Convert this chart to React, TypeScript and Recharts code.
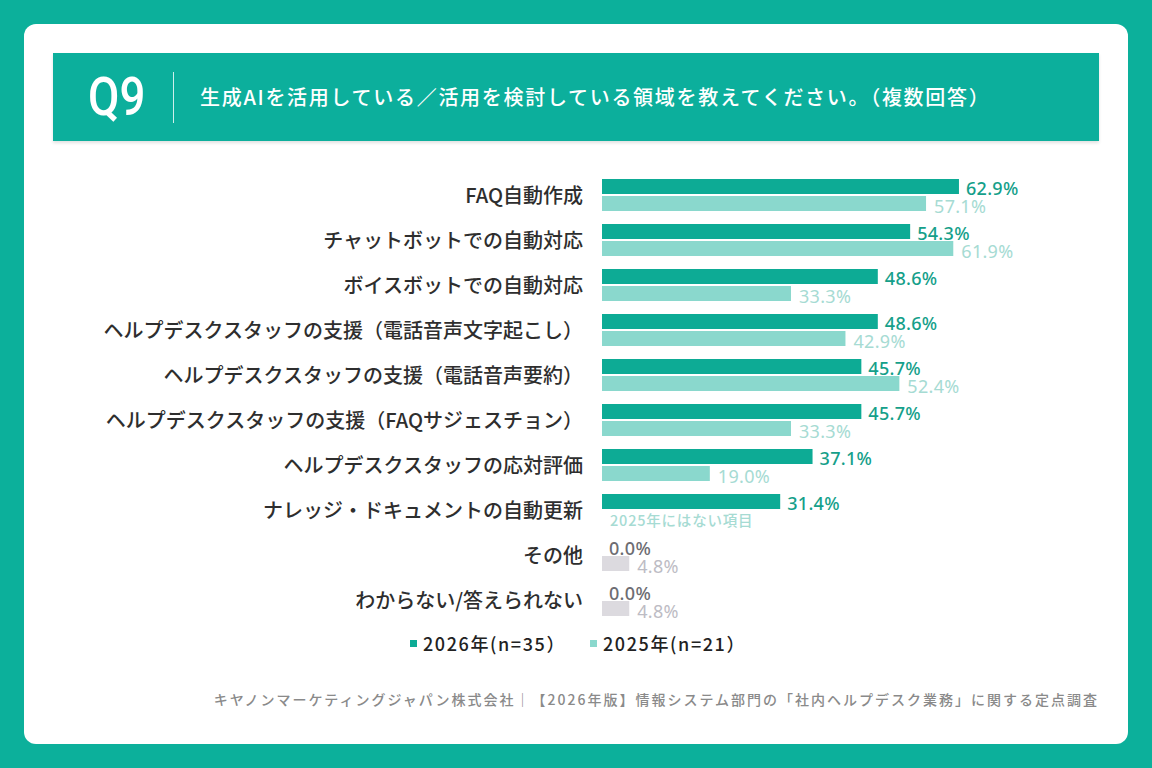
import React from "react";
import { BarChart, Bar, XAxis, YAxis } from "recharts";

const categories = [
  "FAQ自動作成",
  "チャットボットでの自動対応",
  "ボイスボットでの自動対応",
  "ヘルプデスクスタッフの支援（電話音声文字起こし）",
  "ヘルプデスクスタッフの支援（電話音声要約）",
  "ヘルプデスクスタッフの支援（FAQサジェスチョン）",
  "ヘルプデスクスタッフの応対評価",
  "ナレッジ・ドキュメントの自動更新",
  "その他",
  "わからない/答えられない",
];
const values2026 = [62.9, 54.3, 48.6, 48.6, 45.7, 45.7, 37.1, 31.4, 0.0, 0.0];
const values2025: (number | null)[] = [57.1, 61.9, 33.3, 42.9, 52.4, 33.3, 19.0, null, 4.8, 4.8];
const mutedCategories = ["その他", "わからない/答えられない"];
const noDataNote = "2025年にはない項目";
const series2026Name = "2026年(n=35）";
const series2025Name = "2025年(n=21）";
const titleText = "生成AIを活用している／活用を検討している領域を教えてください。（複数回答）";
const questionNo = "Q9";
const footerText =
  "キヤノンマーケティングジャパン株式会社｜【2026年版】情報システム部門の「社内ヘルプデスク業務」に関する定点調査";

const data = categories.map((name, i) => ({
  name,
  v2026: values2026[i],
  v2025: values2025[i],
  muted: mutedCategories.includes(name),
  missing2025: values2025[i] === null,
}));

const C2026 = "#0dab95";
const C2025 = "#8ad8cd";
const L2026 = "#159f8a";
const L2025 = "#a6dbd3";
const MUTED_BAR = "#dcdadf";
const MUTED_L2026 = "#6d6d72";
const MUTED_L2025 = "#bdbcc4";
const FONT = "'Noto Sans CJK JP', 'Noto Sans', sans-serif";
const NUM_FONT = "'Noto Sans', 'Noto Sans CJK JP', sans-serif";

const YTick = (props: any) => {
  const { x, y, payload } = props;
  return (
    <text
      x={x - 11}
      y={y}
      textAnchor="end"
      dominantBaseline="central"
      fontSize={20}
      fontWeight={500}
      fill="#2e2e2e"
      fontFamily={FONT}
    >
      {payload.value}
    </text>
  );
};

const Shape2026 = (props: any) => {
  const { x, y, width, height, payload } = props;
  const X = Number(x) || 0;
  const Y = Number(y) || 0;
  const W = Math.max(0, Number(width) || 0);
  const H = Number(height) || 0;
  const cy = Y + H / 2;
  return (
    <g>
      {W > 0 && <rect x={X} y={Y} width={W} height={H} fill={payload.muted ? MUTED_BAR : C2026} />}
      <text
        x={X + W + 7}
        y={cy + 1}
        dominantBaseline="central"
        fontSize={18}
        fontWeight={500}
        letterSpacing={0.3}
        fill={payload.muted ? MUTED_L2026 : L2026}
        fontFamily={NUM_FONT}
      >
        {Number(payload.v2026).toFixed(1)}%
      </text>
      {payload.missing2025 && (
        <text
          x={X + 8}
          y={cy + H + 3}
          dominantBaseline="central"
          fontSize={14.5}
          fontWeight={500}
          letterSpacing={0.8}
          fill={L2025}
          fontFamily={FONT}
        >
          {noDataNote}
        </text>
      )}
    </g>
  );
};

const Shape2025 = (props: any) => {
  const { x, y, width, height, payload } = props;
  if (payload.v2025 === null || payload.v2025 === undefined) return <g />;
  const X = Number(x) || 0;
  const Y = Number(y) || 0;
  const W = Math.max(0, Number(width) || 0);
  const H = Number(height) || 0;
  return (
    <g>
      {W > 0 && <rect x={X} y={Y} width={W} height={H} fill={payload.muted ? MUTED_BAR : C2025} />}
      <text
        x={X + W + 8}
        y={Y + H / 2 + 2}
        dominantBaseline="central"
        fontSize={18}
        fontWeight={400}
        letterSpacing={0.3}
        fill={payload.muted ? MUTED_L2025 : L2025}
        fontFamily={NUM_FONT}
      >
        {Number(payload.v2025).toFixed(1)}%
      </text>
    </g>
  );
};

export default function App() {
  return (
    <div
      style={{
        position: "absolute",
        left: 0,
        top: 0,
        width: 1152,
        height: 768,
        background: "#0cb09b",
        fontFamily: FONT,
        overflow: "hidden",
      }}
    >
      <div
        style={{
          position: "absolute",
          left: 24,
          top: 24,
          width: 1104,
          height: 720,
          background: "#ffffff",
          borderRadius: 12,
        }}
      />
      <div
        style={{
          position: "absolute",
          left: 53,
          top: 53,
          width: 1046,
          height: 88,
          background: "#0caf9c",
          boxShadow: "0 2px 3px rgba(0,0,0,0.12)",
        }}
      >
        <div
          style={{
            position: "absolute",
            left: 35,
            top: 12,
            fontSize: 53,
            fontWeight: 500,
            color: "#ffffff",
            fontFamily: "Roboto, 'Noto Sans', sans-serif",
            lineHeight: "64px",
            transform: "scaleX(0.86)",
            transformOrigin: "left center",
          }}
        >
          {questionNo}
        </div>
        <div
          style={{
            position: "absolute",
            left: 120,
            top: 19,
            width: 1,
            height: 51,
            background: "rgba(255,255,255,0.8)",
          }}
        />
        <div
          style={{
            position: "absolute",
            left: 147,
            top: 29,
            fontSize: 20,
            fontWeight: 500,
            letterSpacing: 1.7,
            color: "#ffffff",
            lineHeight: "30px",
            whiteSpace: "nowrap",
          }}
        >
          {titleText}
        </div>
      </div>

      <div style={{ position: "absolute", left: 0, top: 0 }}>
        <BarChart
          width={1152}
          height={768}
          data={data}
          layout="vertical"
          margin={{ top: 172, right: 96, bottom: 146, left: 0 }}
          barSize={15}
          barGap={2}
        >
          <XAxis type="number" domain={[0, 80]} hide />
          <YAxis
            type="category"
            dataKey="name"
            width={602}
            axisLine={false}
            tickLine={false}
            tick={<YTick />}
            interval={0}
          />
          <Bar dataKey="v2026" isAnimationActive={false} fill={C2026} shape={<Shape2026 />} />
          <Bar dataKey="v2025" isAnimationActive={false} fill={C2025} shape={<Shape2025 />} />
        </BarChart>
      </div>

      <div
        style={{
          position: "absolute",
          left: 0,
          width: 1152,
          top: 631,
          display: "flex",
          justifyContent: "center",
          gap: 24,
          fontSize: 18,
          fontWeight: 500,
          letterSpacing: 1.6,
          color: "#222",
          lineHeight: "24px",
          paddingLeft: 2,
        }}
      >
        <span style={{ display: "flex", alignItems: "center" }}>
          <span style={{ width: 7, height: 7, background: C2026, marginRight: 6, display: "inline-block" }} />
          {series2026Name}
        </span>
        <span style={{ display: "flex", alignItems: "center" }}>
          <span style={{ width: 7, height: 7, background: C2025, marginRight: 6, display: "inline-block" }} />
          {series2025Name}
        </span>
      </div>

      <div
        style={{
          position: "absolute",
          right: 53,
          top: 688,
          fontSize: 14,
          fontWeight: 500,
          letterSpacing: 2,
          color: "#8a8a8a",
          lineHeight: "22px",
          whiteSpace: "nowrap",
        }}
      >
        {footerText}
      </div>
    </div>
  );
}
